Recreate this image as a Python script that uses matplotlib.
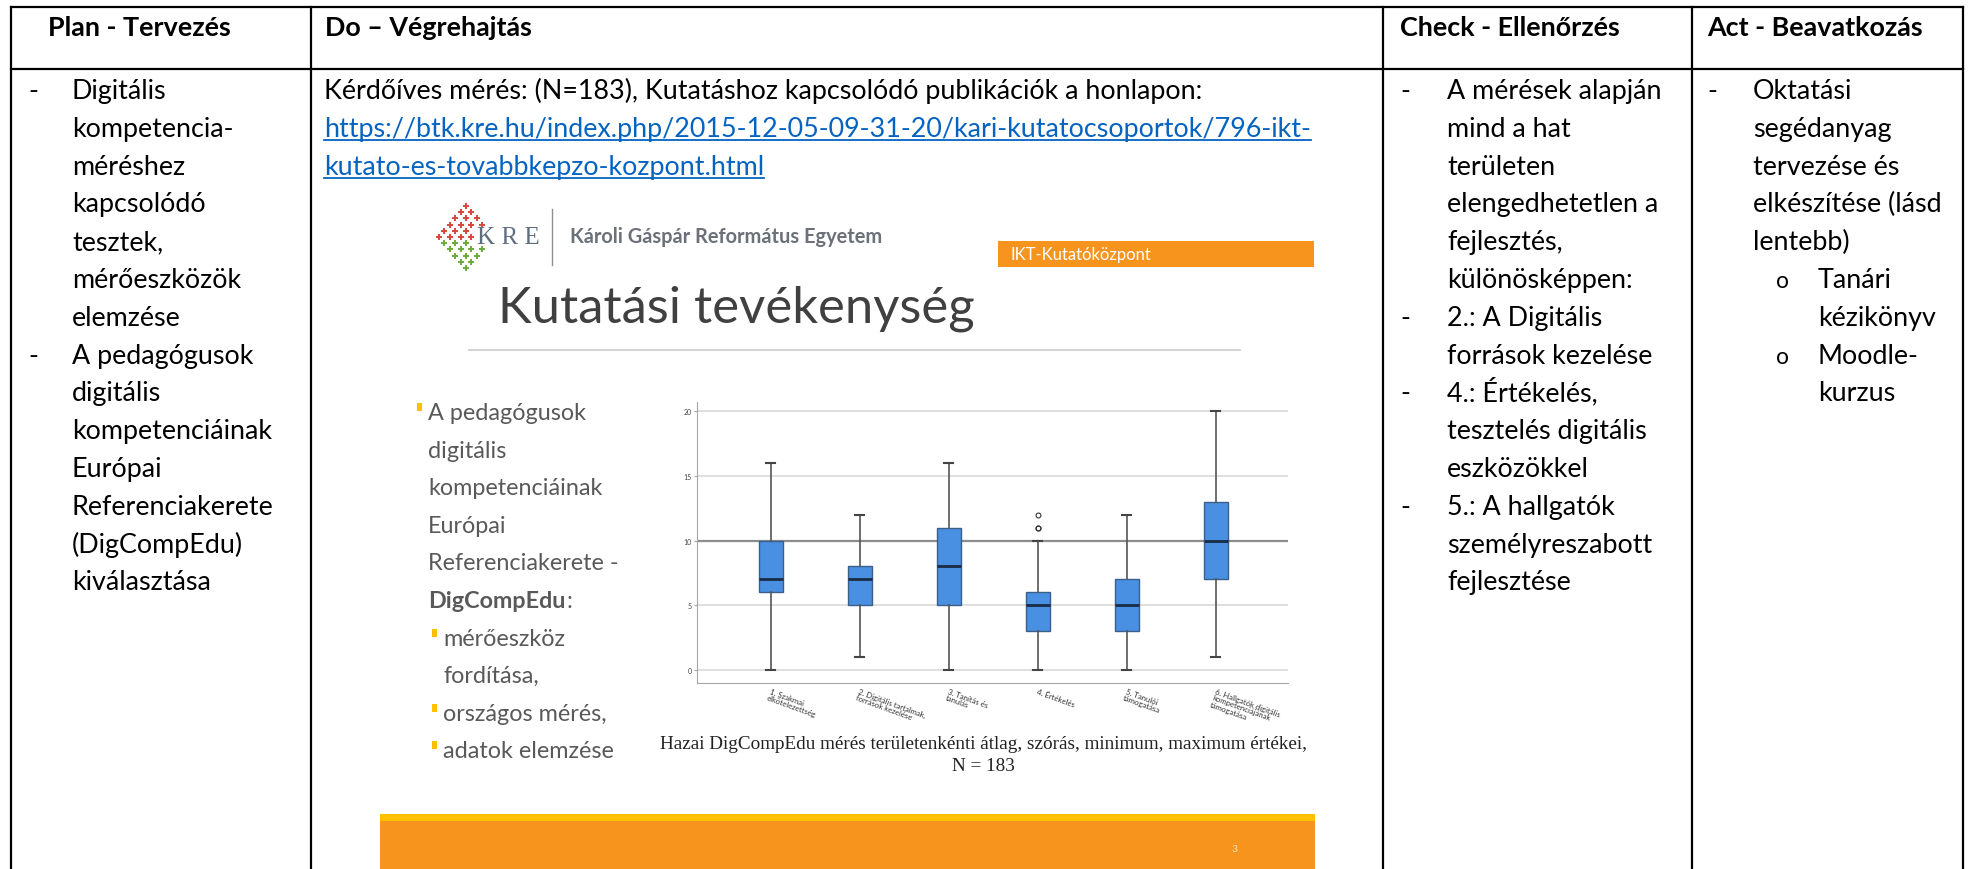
import matplotlib
matplotlib.use('Agg')
import matplotlib.pyplot as plt
from matplotlib.patches import Rectangle

plt.rcParams['font.family'] = ['Lato', 'DejaVu Sans']

# ---------------- table text ----------------
headers = ['Plan - Tervezés', 'Do – Végrehajtás', 'Check - Ellenőrzés', 'Act - Beavatkozás']

plan_items = [['Digitális', 'kompetencia-', 'méréshez', 'kapcsolódó', 'tesztek,',
               'mérőeszközök', 'elemzése'],
              ['A pedagógusok', 'digitális', 'kompetenciáinak', 'Európai',
               'Referenciakerete', '(DigCompEdu)', 'kiválasztása']]

do_text = 'Kérdőíves mérés: (N=183), Kutatáshoz kapcsolódó publikációk a honlapon:'
do_link = ['https://btk.kre.hu/index.php/2015-12-05-09-31-20/kari-kutatocsoportok/796-ikt-',
           'kutato-es-tovabbkepzo-kozpont.html']

check_items = [['A mérések alapján', 'mind a hat', 'területen', 'elengedhetetlen a',
                'fejlesztés,', 'különösképpen:'],
               ['2.: A Digitális', 'források kezelése'],
               ['4.: Értékelés,', 'tesztelés digitális', 'eszközökkel'],
               ['5.: A hallgatók', 'személyreszabott', 'fejlesztése']]

act_items = [['Oktatási', 'segédanyag', 'tervezése és', 'elkészítése (lásd', 'lentebb)']]
act_sub = [['Tanári', 'kézikönyv'], ['Moodle-', 'kurzus']]

# ---------------- slide text ----------------
slide_title = 'Kutatási tevékenység'
slide_bullet = ['A pedagógusok', 'digitális', 'kompetenciáinak', 'Európai',
                'Referenciakerete -']
slide_bold = 'DigCompEdu'
slide_sub = [['mérőeszköz', 'fordítása,'], ['országos mérés,'], ['adatok elemzése']]
caption = ['Hazai DigCompEdu mérés területenkénti átlag, szórás, minimum, maximum értékei,',
           'N = 183']

# ---------------- boxplot data ----------------
areas = ['1. Szakmai\nelkötelezettség', '2. Digitális tartalmak,\nforrások kezelése',
         '3. Tanítás és\ntanulás', '4. Értékelés', '5. Tanulói\ntámogatása',
         '6. Hallgatók digitális\nkompetenciájának\ntámogatása']
whis_lo = [0, 1, 0, 0, 0, 1]
q1 = [6, 5, 5, 3, 3, 7]
med = [7, 7, 8, 5, 5, 10]
q3 = [10, 8, 11, 6, 7, 13]
whis_hi = [16, 12, 16, 10, 12, 20]
fliers = [[], [], [], [11, 11, 12], [], []]
yticks = [0, 5, 10, 15, 20]

W, H = 1968, 870
fig = plt.figure(figsize=(W / 100, H / 100), dpi=100)
ax = fig.add_axes([0, 0, 1, 1])
ax.set_xlim(0, W)
ax.set_ylim(H, 0)
ax.axis('off')

# table grid
col_x = [11, 311, 1383, 1692, 1963]
for x in col_x:
    ax.plot([x, x], [8, H], color='black', lw=1.6)
for y in [8, 70]:
    ax.plot([col_x[0], col_x[-1]], [y, y], color='black', lw=1.6)

FS = 19.4
LH = 37.8
Y0 = 99


def line_y(n):
    return Y0 + n * LH


head_x = [48, 325, 1400, 1707]
for hx, h in zip(head_x, headers):
    ax.text(hx, 36, h, fontsize=FS, fontweight='bold', va='baseline')

# plan column
n = 0
for item in plan_items:
    ax.text(28, line_y(n), '-', fontsize=FS, va='baseline')
    for s in item:
        ax.text(72, line_y(n), s, fontsize=FS, va='baseline')
        n += 1

# do column
ax.text(324, line_y(0), do_text, fontsize=FS, va='baseline')
fig.canvas.draw()
rend = fig.canvas.get_renderer()
inv = ax.transData.inverted()
for k, s in enumerate(do_link):
    t = ax.text(324, line_y(k + 1), s, fontsize=FS, va='baseline', color='#0563C1')
    bb = t.get_window_extent(renderer=rend)
    x0, _ = inv.transform((bb.x0, 0))
    x1, _ = inv.transform((bb.x1, 0))
    ax.plot([x0, x1], [line_y(k + 1) + 4, line_y(k + 1) + 4], color='#0563C1', lw=1.3)

# check column
n = 0
for item in check_items:
    ax.text(1400, line_y(n), '-', fontsize=FS, va='baseline')
    for s in item:
        ax.text(1447, line_y(n), s, fontsize=FS, va='baseline')
        n += 1

# act column
n = 0
for item in act_items:
    ax.text(1707, line_y(n), '-', fontsize=FS, va='baseline')
    for s in item:
        ax.text(1753, line_y(n), s, fontsize=FS, va='baseline')
        n += 1
for item in act_sub:
    ax.text(1776, line_y(n), 'o', fontsize=FS - 3, va='baseline')
    for s in item:
        ax.text(1818, line_y(n), s, fontsize=FS, va='baseline')
        n += 1

# ---------------- slide ----------------
# logo dots
cx, cy = 466, 238
for i in range(6):
    for j in range(6):
        px = cx + (i - j) * 5.4
        py = cy + (i + j - 5) * 6.2
        if px > 474 and abs(py - 237) < 11:
            continue
        ax.plot(px, py, marker='+', ms=4.2, mew=1.4,
                color='#d8453b' if py <= cy else '#6aab3c')
ax.text(477, 244, 'K R E', family='Liberation Serif', fontsize=18, color='#5d6d7e',
        va='baseline')
ax.plot([552, 552], [210, 266], color='#8a9099', lw=1)
ax.text(570, 243, 'Károli Gáspár Református Egyetem', fontsize=14.4, fontweight='bold',
        color='#6b7079', va='baseline')
ax.add_patch(Rectangle((998, 242), 316, 26, color='#F7941D', lw=0))
ax.text(1010, 255, 'IKT-Kutatóközpont', fontsize=12, color='white', va='center')

ax.text(498, 323, slide_title, fontsize=36.5, fontweight='normal', color='#404040',
        va='baseline')
ax.plot([469, 1240], [351, 351], color='#d0d0d0', lw=1.3)

SY0 = 420
SLH = 37.6
SFS = 16.8
n = 0
ax.add_patch(Rectangle((417, SY0 - 16), 5, 8, color='#FFC000', lw=0))
for s in slide_bullet:
    ax.text(428, SY0 + n * SLH, s, fontsize=SFS, color='#595959', va='baseline')
    n += 1
t = ax.text(428, SY0 + n * SLH, slide_bold, fontsize=SFS, color='#595959',
            fontweight='bold', va='baseline')
bb = t.get_window_extent(renderer=rend)
bx1, _ = inv.transform((bb.x1, 0))
ax.text(bx1 + 1, SY0 + n * SLH, ':', fontsize=SFS, color='#595959', va='baseline')
n += 1
for item in slide_sub:
    ax.add_patch(Rectangle((432, SY0 + n * SLH - 16), 5, 8, color='#FFC000', lw=0))
    for s in item:
        ax.text(443, SY0 + n * SLH, s, fontsize=SFS, color='#595959', va='baseline')
        n += 1

ax.text(983, 745, caption[0], family='Liberation Serif', fontsize=13.8, color='#222222',
        ha='center', va='center')
ax.text(983, 767, caption[1], family='Liberation Serif', fontsize=13.8, color='#222222',
        ha='center', va='center')

ax.add_patch(Rectangle((380, 815), 935, 7, color='#FFC000', lw=0))
ax.add_patch(Rectangle((380, 822), 935, 50, color='#F7941D', lw=0))
ax.text(1235, 850, '3', fontsize=7.5, color='#fde3c0', ha='center', va='center')

# ---------------- boxplot ----------------
bl, br, bt, bb_ = 697, 1288, 403, 684
bax = fig.add_axes([bl / W, 1 - bb_ / H, (br - bl) / W, (bb_ - bt) / H])
stats = []
for k in range(len(areas)):
    stats.append(dict(whislo=whis_lo[k], q1=q1[k], med=med[k], q3=q3[k],
                      whishi=whis_hi[k], fliers=fliers[k], label=areas[k]))
bax.bxp(stats, positions=range(1, 7), widths=0.27, capwidths=0.1, patch_artist=True,
        boxprops=dict(facecolor='#4a90e2', edgecolor='#3a5f8a', lw=1),
        medianprops=dict(color='#1a2b44', lw=2),
        whiskerprops=dict(color='#555555', lw=1.2),
        capprops=dict(color='#444444', lw=1.5),
        flierprops=dict(marker='o', mfc='none', mec='#333333', ms=3.5, mew=0.8))
for g in [0, 5, 15, 20]:
    bax.axhline(g, color='#d9d9d9', lw=1.2, zorder=0)
bax.axhline(10, color='#8c8c8c', lw=1.6, zorder=0.5)
bax.set_xlim(0.17, 6.81)
bax.set_ylim(-1.0, 20.7)
bax.set_yticks(yticks)
bax.set_yticklabels([str(v) for v in yticks], fontsize=5, color='#444444')
bax.set_xticks(range(1, 7))
bax.set_xticklabels(areas, rotation=-20, ha='left', va='top', rotation_mode='anchor',
                    fontsize=5.6, color='#333333', linespacing=1.0)
bax.tick_params(axis='x', length=0, pad=3)
bax.tick_params(axis='y', length=2, pad=2, color='#a6a6a6')
for sp in ['top', 'right']:
    bax.spines[sp].set_visible(False)
for sp in ['left', 'bottom']:
    bax.spines[sp].set_color('#a6a6a6')
bax.patch.set_alpha(0)

fig.savefig('out.png', dpi=100)
